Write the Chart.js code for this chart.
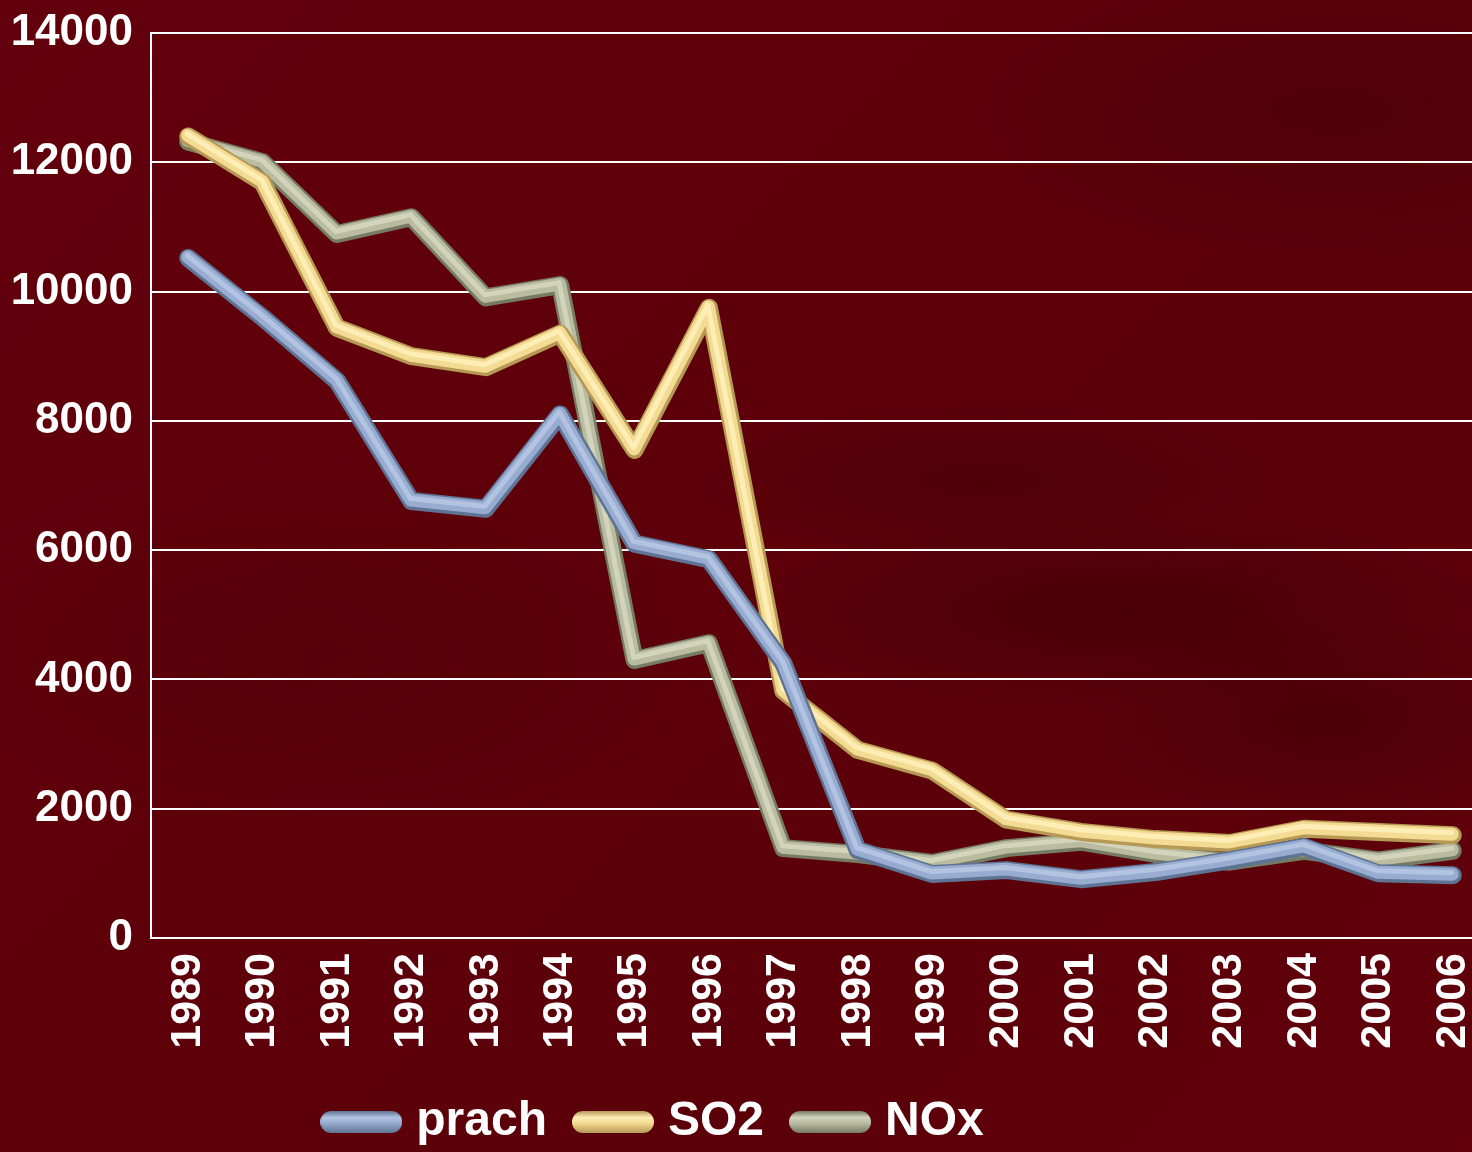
<!DOCTYPE html>
<html><head><meta charset="utf-8">
<script src="https://cdn.jsdelivr.net/npm/chart.js@4.4.1/dist/chart.umd.min.js"></script>
<style>
html,body{margin:0;padding:0;width:1472px;height:1152px;overflow:hidden;}
body{
 background:
  radial-gradient(ellipse 380px 100px at 1120px 610px, rgba(50,0,2,0.45), rgba(50,0,2,0)),
  radial-gradient(ellipse 300px 80px at 980px 480px, rgba(50,0,2,0.32), rgba(50,0,2,0)),
  radial-gradient(ellipse 240px 110px at 1330px 720px, rgba(50,0,2,0.40), rgba(50,0,2,0)),
  radial-gradient(ellipse 380px 150px at 1330px 110px, rgba(50,0,2,0.30), rgba(50,0,2,0)),
  radial-gradient(ellipse 420px 200px at 300px 650px, rgba(50,0,2,0.15), rgba(50,0,2,0)),
  linear-gradient(135deg, #62000c 0%, #5e000a 40%, #5b0009 70%, #61000b 100%);
}
#wrap{position:absolute;left:0;top:0;width:1490px;height:1156px;}
</style></head><body><div id="wrap"><canvas id="c"></canvas></div>
<script>
const years = ['1989','1990','1991','1992','1993','1994','1995','1996','1997','1998','1999','2000','2001','2002','2003','2004','2005','2006'];
const prach = [10520, 9600, 8620, 6760, 6640, 8100, 6100, 5860, 4250, 1360, 990, 1050, 910, 1020, 1200, 1410, 1000, 970];
const so2   = [12400, 11690, 9440, 9000, 8830, 9350, 7550, 9750, 3820, 2910, 2590, 1830, 1640, 1530, 1470, 1690, 1640, 1590];
const nox   = [12320, 12000, 10890, 11150, 9910, 10100, 4300, 4560, 1390, 1300, 1160, 1390, 1490, 1300, 1180, 1350, 1200, 1350];
const seriesNames = ['prach', 'SO2', 'NOx'];
const yMin = 0, yMax = 14000, yStep = 2000;

const palette = {
  prach: {dark:'#5f7393', main:'#97acd0', light:'#b2c4e2'},
  SO2:   {dark:'#b69955', main:'#f4db93', light:'#fdeeb6'},
  NOx:   {dark:'#767b63', main:'#babca0', light:'#d2d4bb'}
};

function layers(name, data, baseOrder){
  const p = palette[name];
  const common = {data, fill:false, pointRadius:0, pointHoverRadius:0, tension:0,
    borderCapStyle:'round', borderJoinStyle:'round'};
  return [
    Object.assign({}, common, {label:name, borderColor:p.dark, borderWidth:18, order:baseOrder+2}),
    Object.assign({}, common, {label:name, borderColor:p.main, borderWidth:13, order:baseOrder+1, shift:[-0.5,-1]}),
    Object.assign({}, common, {label:name, borderColor:p.light, borderWidth:5, order:baseOrder, shift:[-1,-2.5]})
  ];
}

function pill(name){
  const p = palette[name];
  const c = document.createElement('canvas');
  c.width = 82; c.height = 22;
  const g = c.getContext('2d');
  const grad = g.createLinearGradient(0,0,0,22);
  grad.addColorStop(0, p.dark);
  grad.addColorStop(0.3, p.light);
  grad.addColorStop(0.55, p.main);
  grad.addColorStop(1, p.dark);
  g.fillStyle = grad;
  g.beginPath();
  g.moveTo(11,0); g.lineTo(71,0); g.arc(71,11,11,-Math.PI/2,Math.PI/2); g.lineTo(11,22); g.arc(11,11,11,Math.PI/2,Math.PI*1.5);
  g.closePath(); g.fill();
  return c;
}
const pills = {prach:pill('prach'), SO2:pill('SO2'), NOx:pill('NOx')};

const offsetPlugin = {
  id:'layerShift',
  beforeDatasetDraw(chart, args){
    const s = chart.data.datasets[args.index].shift;
    if (s){ chart.ctx.save(); chart.ctx.translate(s[0], s[1]); }
  },
  afterDatasetDraw(chart, args){
    if (chart.data.datasets[args.index].shift) chart.ctx.restore();
  }
};
const legendShift = {
  id:'legendShift',
  afterLayout(chart){ if (chart.legend){ chart.legend.left -= 88; chart.legend.right -= 88; } }
};

const datasets = [].concat(
  layers('prach', prach, 1),
  layers('SO2', so2, 10),
  layers('NOx', nox, 20)
);

new Chart(document.getElementById('c'), {
  type:'line',
  data:{labels:years, datasets},
  plugins:[offsetPlugin, legendShift],
  options:{
    responsive:true, maintainAspectRatio:false, animation:false,
    layout:{padding:{top:33, right:0, bottom:0, left:0}},
    plugins:{
      tooltip:{enabled:false},
      legend:{
        position:'bottom', align:'center',
        labels:{
          usePointStyle:true, pointStyleWidth:62, boxHeight:22, padding:35,
          color:'#ffffff', font:{family:'"Liberation Sans", Arial, sans-serif', weight:'bold', size:48},
          generateLabels(chart){
            return seriesNames.map(n => ({text:n, pointStyle:pills[n], fillStyle:'rgba(0,0,0,0)', strokeStyle:'rgba(0,0,0,0)', lineWidth:0, fontColor:'#ffffff', hidden:false}));
          }
        }
      }
    },
    scales:{
      x:{
        offset:true,
        grid:{display:false, drawTicks:false},
        border:{display:false},
        ticks:{color:'#ffffff', padding:15, minRotation:90, maxRotation:90, autoSkip:false,
          font:{family:'"Liberation Sans", Arial, sans-serif', weight:'bold', size:43}},
        afterFit(scale){ scale.height = 125; scale.paddingRight = 0; scale.paddingLeft = 0; }
      },
      y:{
        min:yMin, max:yMax,
        grid:{color:'#ffffff', lineWidth:2, drawTicks:false},
        border:{display:true, color:'#ffffff', width:2},
        ticks:{stepSize:yStep, color:'#ffffff', padding:18,
          callback:(v) => String(v),
          font:{family:'"Liberation Sans", Arial, sans-serif', weight:'bold', size:44}},
        afterFit(scale){ scale.width = 151; scale.paddingTop = 0; scale.paddingBottom = 0; }
      }
    }
  }
});
</script></body></html>
